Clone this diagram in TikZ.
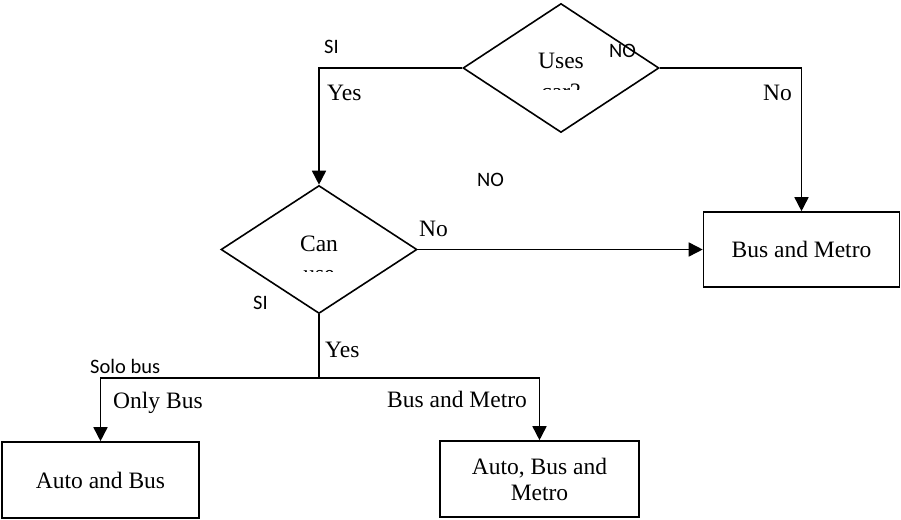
\documentclass[tikz,border=0pt]{standalone}
\usepackage{fontspec}
\setmainfont{Liberation Serif}
\newfontfamily\lblfont{Carlito}
\usetikzlibrary{shapes.geometric,arrows.meta}
\tikzset{
  txt/.style={font=\fontsize{23.5}{26}\selectfont, inner sep=0pt},
  sil/.style={font=\lblfont\fontsize{20.5}{23}\selectfont, inner sep=0pt},
  dia/.style={diamond, draw, line width=1.6pt, inner sep=0pt},
  box/.style={rectangle, draw, line width=1.6pt, inner sep=0pt, align=center, font=\fontsize{23.5}{26}\selectfont},
  conn/.style={line width=1.6pt},
  arr/.style={conn, -{Triangle[length=14pt,width=14pt]}},
}
\begin{document}
\begin{tikzpicture}[x=1pt,y=-1pt]
\useasboundingbox (0,0) rectangle (901,519);
% decisions
\node[dia, minimum width=196pt, minimum height=129pt] (d1) at (561,68) {};
\node[dia, minimum width=196pt, minimum height=128pt] (d2) at (319,249.5) {};
% boxes
\node[box, minimum width=196pt, minimum height=75pt] (bm) at (801.5,249.5) {Bus and Metro};
\node[box, minimum width=197pt, minimum height=76pt] (ab) at (100.5,480) {Auto and Bus};
\node[box, minimum width=199pt, minimum height=76pt] (abm) at (539.5,479) {Auto, Bus and\\Metro};
% diamond texts
\node[txt, anchor=base] (t1) at (561,68) {Uses};
\begin{scope}
  \clip (500,80) rectangle (620,89.4);
  \node[txt, anchor=base] (t1b) at (561,99.2) {car?};
\end{scope}
\node[txt, anchor=base] (t2) at (319,251) {Can};
\begin{scope}
  \clip (260,262) rectangle (380,271.6);
  \node[txt, anchor=base] (t2b) at (319,281.2) {use};
\end{scope}
% connectors
\coordinate (j) at (319,378);
\draw[arr] (d1.west) -| (d2.north);
\draw[arr] (d1.east) -| (bm.north);
\draw[arr] (d2.east) -- (bm.west);
\draw[conn] (d2.south) -- (j);
\draw[arr] (j) -| (ab.north);
\draw[arr] (j) -| (abm.north);
% labels
\node[sil, anchor=base west] (l1) at (324,53) {SI};
\node[txt, anchor=base west] (l2) at (327,100) {Yes};
\node[sil, anchor=base west] (l3) at (609,57) {NO};
\node[txt, anchor=base west] (l4) at (763,100) {No};
\node[sil, anchor=base west] (l5) at (477,186) {NO};
\node[txt, anchor=base west] (l6) at (419,236) {No};
\node[sil, anchor=base west] (l7) at (253,309) {SI};
\node[txt, anchor=base west] (l8) at (325,357) {Yes};
\node[sil, anchor=base west] (l9) at (90,373) {Solo bus};
\node[txt, anchor=base west] (l10) at (113,408) {Only Bus};
\node[txt, anchor=base west] (l11) at (387,407) {Bus and Metro};
\end{tikzpicture}
\end{document}
